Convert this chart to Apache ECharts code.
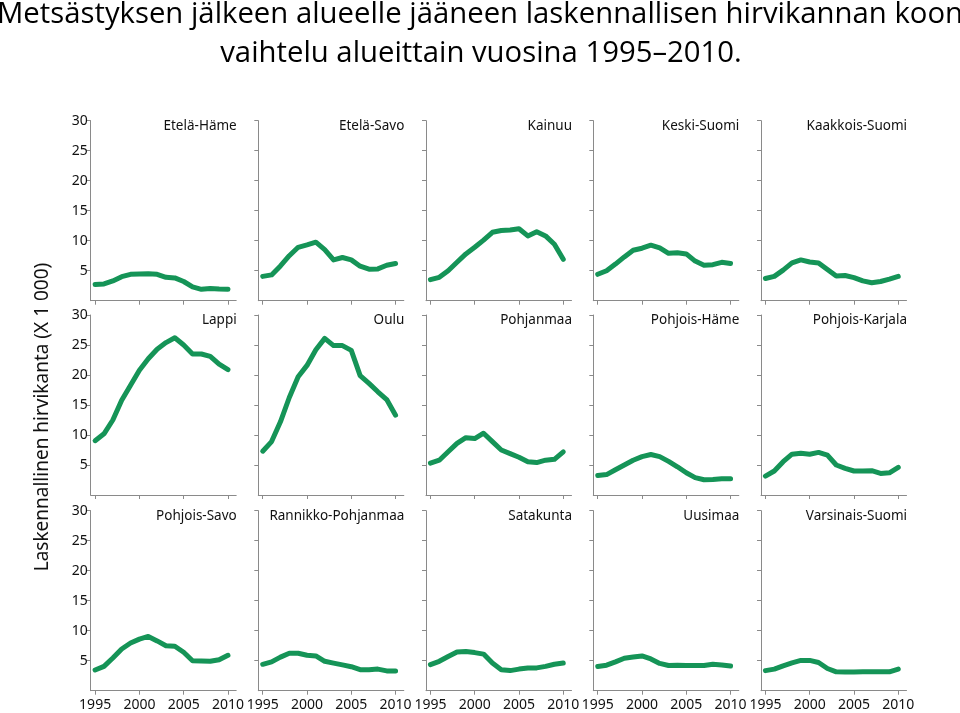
<!DOCTYPE html>
<html>
<head>
<meta charset="utf-8">
<script src="https://cdn.jsdelivr.net/npm/echarts@6/dist/echarts.min.js"></script>
<style>
html,body{margin:0;padding:0;background:#fff;}
#chart{width:960px;height:713px;}
</style>
</head>
<body>
<div id="chart"></div>
<script>
// ---- data ----
const years = [1995,1996,1997,1998,1999,2000,2001,2002,2003,2004,2005,2006,2007,2008,2009,2010];
const xTickLabels = [1995, 2000, 2005, 2010];
const yTickLabels = [5, 10, 15, 20, 25, 30];
const regions = ['Etelä-Häme','Etelä-Savo','Kainuu','Keski-Suomi','Kaakkois-Suomi',
                 'Lappi','Oulu','Pohjanmaa','Pohjois-Häme','Pohjois-Karjala',
                 'Pohjois-Savo','Rannikko-Pohjanmaa','Satakunta','Uusimaa','Varsinais-Suomi'];

const etelaHame        = [2.7,2.8,3.3,4.0,4.4,4.45,4.5,4.4,3.9,3.8,3.2,2.3,1.9,2.05,1.95,1.9];
const etelaSavo        = [4.05,4.3,5.8,7.5,8.9,9.3,9.75,8.5,6.8,7.2,6.8,5.75,5.25,5.3,5.9,6.2];
const kainuu           = [3.5,3.9,5.0,6.4,7.8,8.9,10.1,11.4,11.7,11.8,12.0,10.8,11.5,10.8,9.4,6.9];
const keskiSuomi       = [4.4,5.0,6.1,7.3,8.4,8.75,9.25,8.8,7.9,8.0,7.8,6.6,5.9,6.0,6.4,6.2];
const kaakkoisSuomi    = [3.7,4.05,5.1,6.3,6.8,6.45,6.3,5.2,4.1,4.2,3.85,3.3,3.0,3.2,3.6,4.05];
const lappi            = [9.05,10.2,12.5,15.8,18.3,20.8,22.7,24.3,25.4,26.2,25.0,23.5,23.5,23.1,21.8,20.9];
const oulu             = [7.3,8.9,12.2,16.25,19.7,21.6,24.2,26.1,24.9,24.9,24.1,19.9,18.6,17.2,15.9,13.3];
const pohjanmaa        = [5.3,5.8,7.2,8.6,9.55,9.4,10.3,8.9,7.5,6.9,6.3,5.55,5.4,5.8,5.95,7.2];
const pohjoisHame      = [3.25,3.4,4.2,5.0,5.8,6.4,6.75,6.4,5.6,4.7,3.7,2.9,2.55,2.6,2.7,2.7];
const pohjoisKarjala   = [3.15,4.0,5.55,6.8,6.95,6.8,7.1,6.65,5.0,4.45,4.0,4.0,4.05,3.6,3.7,4.6];
const pohjoisSavo      = [3.45,4.05,5.45,6.95,7.95,8.6,9.05,8.3,7.5,7.4,6.4,5.0,4.95,4.9,5.15,5.9];
const rannikkoPohjanmaa= [4.4,4.8,5.6,6.25,6.25,5.9,5.8,4.9,4.6,4.3,4.0,3.5,3.5,3.6,3.3,3.3];
const satakunta        = [4.35,4.9,5.7,6.45,6.55,6.35,6.1,4.6,3.5,3.35,3.6,3.8,3.8,4.05,4.4,4.6];
const uusimaa          = [4.05,4.25,4.8,5.4,5.6,5.8,5.3,4.55,4.2,4.25,4.2,4.2,4.2,4.4,4.3,4.1];
const varsinaisSuomi   = [3.35,3.6,4.15,4.65,5.05,5.05,4.7,3.7,3.15,3.1,3.1,3.15,3.15,3.15,3.15,3.6];

const seriesValues = [etelaHame, etelaSavo, kainuu, keskiSuomi, kaakkoisSuomi,
                      lappi, oulu, pohjanmaa, pohjoisHame, pohjoisKarjala,
                      pohjoisSavo, rannikkoPohjanmaa, satakunta, uusimaa, varsinaisSuomi];

// ---- layout ----
const colLefts = [90.7, 258.3, 426, 593.3, 761];
const rowTops = [120.7, 315, 510.7];
const gridW = 145.5, gridH = 180;
const axisColor = '#8a8a8a';
const lineColor = '#159457';
const fontFam = '"Noto Sans", "Open Sans", sans-serif';

const grids = [], xAxes = [], yAxes = [], series = [], titles = [];
for (let i = 0; i < 15; i++) {
  const row = Math.floor(i / 5), col = i % 5;
  grids.push({ left: colLefts[col], top: rowTops[row], width: gridW, height: gridH, containLabel: false });
  xAxes.push({
    type: 'value', gridIndex: i, min: 1994.5, max: 2010.93,
    axisLine: { show: true, lineStyle: { color: axisColor, width: 1 } },
    axisTick: { show: true, length: 4, customValues: xTickLabels, lineStyle: { color: axisColor } },
    axisLabel: { show: row === 2, customValues: xTickLabels, margin: 7, fontSize: 14,
                 color: '#111', fontFamily: fontFam, formatter: v => String(v) },
    splitLine: { show: false }
  });
  yAxes.push({
    type: 'value', gridIndex: i, min: 0, max: 30,
    axisLine: { show: true, lineStyle: { color: axisColor, width: 1 } },
    axisTick: { show: true, length: 4, customValues: yTickLabels, lineStyle: { color: axisColor } },
    axisLabel: { show: col === 0, customValues: yTickLabels, margin: 3, fontSize: 14,
                 color: '#111', fontFamily: fontFam },
    splitLine: { show: false }
  });
  series.push({
    type: 'line', xAxisIndex: i, yAxisIndex: i, showSymbol: false, symbol: 'none',
    data: years.map((y, k) => [y, seriesValues[i][k]]),
    lineStyle: { color: lineColor, width: 5, cap: 'round', join: 'round' },
    silent: true, animation: false
  });
  titles.push({
    text: regions[i], left: colLefts[col] + 146, top: rowTops[row] - 1.5, textAlign: 'right', padding: 0,
    textStyle: { fontSize: 13.5, fontWeight: 'normal', color: '#111', fontFamily: fontFam }
  });
}

const chart = echarts.init(document.getElementById('chart'), null, { renderer: 'canvas' });
chart.setOption({
  animation: false,
  backgroundColor: '#fff',
  title: titles,
  grid: grids,
  xAxis: xAxes,
  yAxis: yAxes,
  series: series,
  graphic: [
    { type: 'text', x: 480, y: 14.5,
      style: { text: 'Metsästyksen jälkeen alueelle jääneen laskennallisen hirvikannan koon',
               font: '29.3px "Open Sans", sans-serif', fill: '#000', textAlign: 'center', textVerticalAlign: 'middle' } },
    { type: 'text', x: 481, y: 53.5,
      style: { text: 'vaihtelu alueittain vuosina 1995–2010.',
               font: '29.3px "Open Sans", sans-serif', fill: '#000', textAlign: 'center', textVerticalAlign: 'middle' } },
    { type: 'text', x: 43, y: 417, rotation: Math.PI / 2,
      style: { text: 'Laskennallinen hirvikanta (X 1 000)',
               font: '19px "Noto Sans", sans-serif', fill: '#111', textAlign: 'center', textVerticalAlign: 'middle' } }
  ]
});
</script>
</body>
</html>
